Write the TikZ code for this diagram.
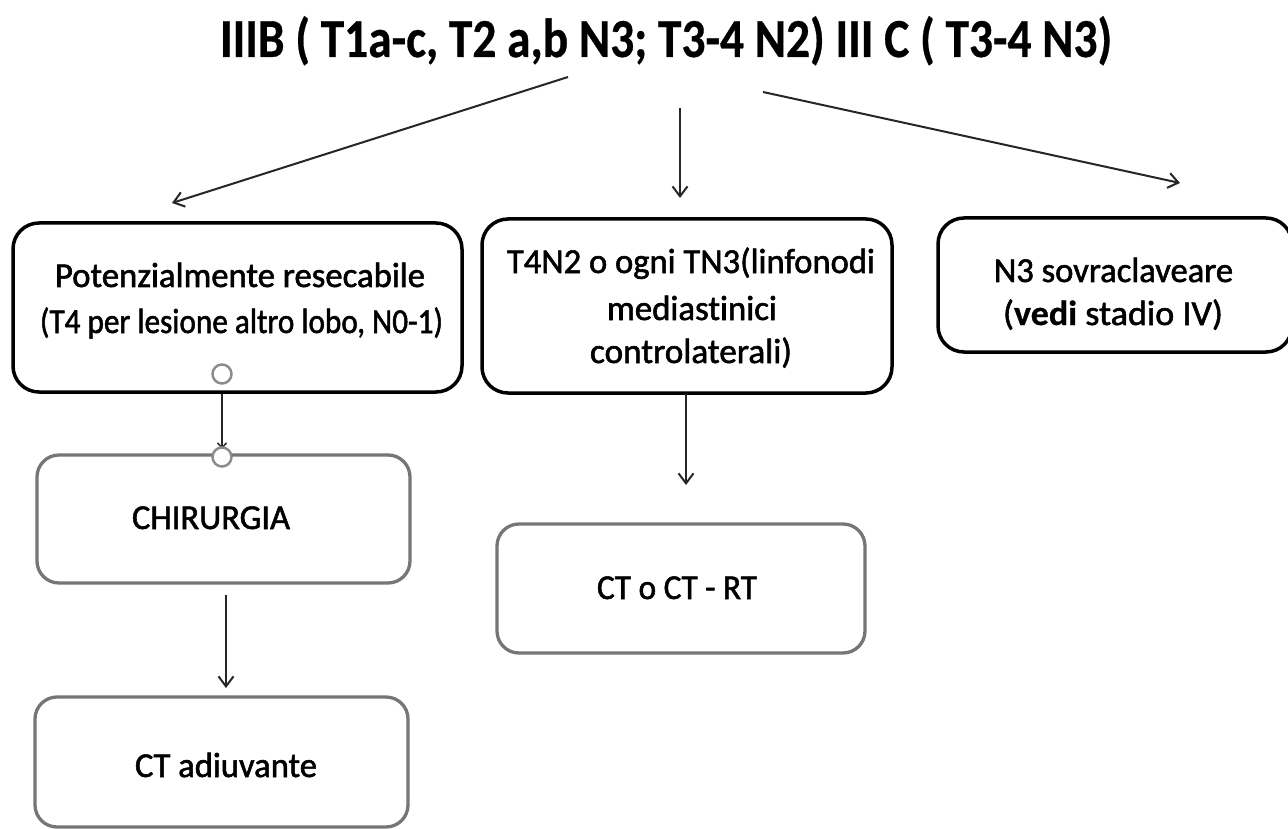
\documentclass[tikz,border=0pt]{standalone}
\usepackage{fontspec}
\setmainfont[Ligatures=NoCommon, FakeBold=1.6, BoldFont={Carlito Bold}, BoldFeatures={FakeBold=0.6}]{Carlito}
\usetikzlibrary{arrows.meta}
\definecolor{edgegray}{HTML}{767676}
\definecolor{circgray}{HTML}{8C8C8C}
\newcommand{\fitl}[3]{\resizebox{#1pt}{\height}{\fontsize{#2}{#2}\selectfont #3}}
\begin{document}
\begin{tikzpicture}[x=1pt,y=-1pt,
  bbox/.style={draw=black, line width=3.5pt, rounded corners=26pt, fill=white, inner sep=0pt},
  gbox/.style={draw=edgegray, line width=3.3pt, rounded corners=22pt, fill=white, inner sep=0pt},
  txt/.style={anchor=base, inner sep=0pt, text=black},
  glue/.style={circle, draw=circgray, line width=2.5pt, fill=white, minimum size=19pt, inner sep=0pt},
  arr/.style={draw=black!85, line width=2pt, -{Straight Barb[length=10pt,width=15pt,line width=2pt]}}]
\useasboundingbox (0,0) rectangle (1288,829);
\clip (0,0) rectangle (1288,829);
\fill[white] (0,0) rectangle (1288,829);

% title
\node[txt] (T) at (666,57) {\fitl{892}{55}{\bfseries IIIB ( T1a-c, T2 a,b N3; T3-4 N2) III C ( T3-4 N3)}};

% boxes
\node[bbox, minimum width=449pt, minimum height=169pt] (A) at (237.5,307.5) {};
\node[bbox, minimum width=410pt, minimum height=174pt] (B) at (687,306) {};
\node[bbox, minimum width=354pt, minimum height=134pt] (C) at (1115,285) {};
\node[gbox, minimum width=373pt, minimum height=128pt] (D) at (223.5,519) {};
\node[gbox, minimum width=368pt, minimum height=129pt] (E) at (681,588.5) {};
\node[gbox, minimum width=373pt, minimum height=130pt] (F) at (221.5,762) {};

% texts
\node[txt] (A1) at (240,287) {\fitl{370}{35}{Potenzialmente resecabile}};
\node[txt] (A2) at (241.5,333) {\fitl{403}{35}{(T4 per lesione altro lobo, N0-1)}};
\node[txt] (B1) at (691,273) {\fitl{368}{35}{T4N2 o ogni TN3(linfonodi}};
\node[txt] (B2) at (692,320) {\fitl{170}{35}{mediastinici}};
\node[txt] (B3) at (691,363) {\fitl{202}{35}{controlaterali)}};
\node[txt] (C1) at (1113.5,282) {\fitl{239}{35}{N3 sovraclaveare}};
\node[txt] (C2) at (1113,325) {\fitl{220}{35}{(\textbf{vedi} stadio IV)}};
\node[txt] (D1) at (211,529) {\fitl{158}{35}{CHIRURGIA}};
\node[txt] (E1) at (677,599) {\fitl{160}{35}{CT o CT - RT}};
\node[txt] (F1) at (226,777) {\fitl{182}{35}{CT adiuvante}};

% arrows from title
\coordinate (tl) at (568,77);
\coordinate (tm) at (680,108);
\coordinate (tr) at (763,92);
\coordinate (hl) at (172,203);
\coordinate (hm) at (680,198);
\coordinate (hr) at (1180,183);
\draw[arr] (tl) -- (hl);
\draw[arr] (tm) -- (hm);
\draw[arr] (tr) -- (hr);

% glue circles and connector A -> D
\node[glue] (gA) at (222,374) {};
\draw[arr, -{Straight Barb[length=5pt,width=9pt,line width=1.5pt]}] (gA |- A.south) -- (222,449);
\node[glue] (gD) at (222,457) {};

% other connectors
\draw[arr] (D.south -| 226,0) ++(0,10) -- (226,688);
\draw[arr] (686,394) -- (686,485);
\end{tikzpicture}
\end{document}
